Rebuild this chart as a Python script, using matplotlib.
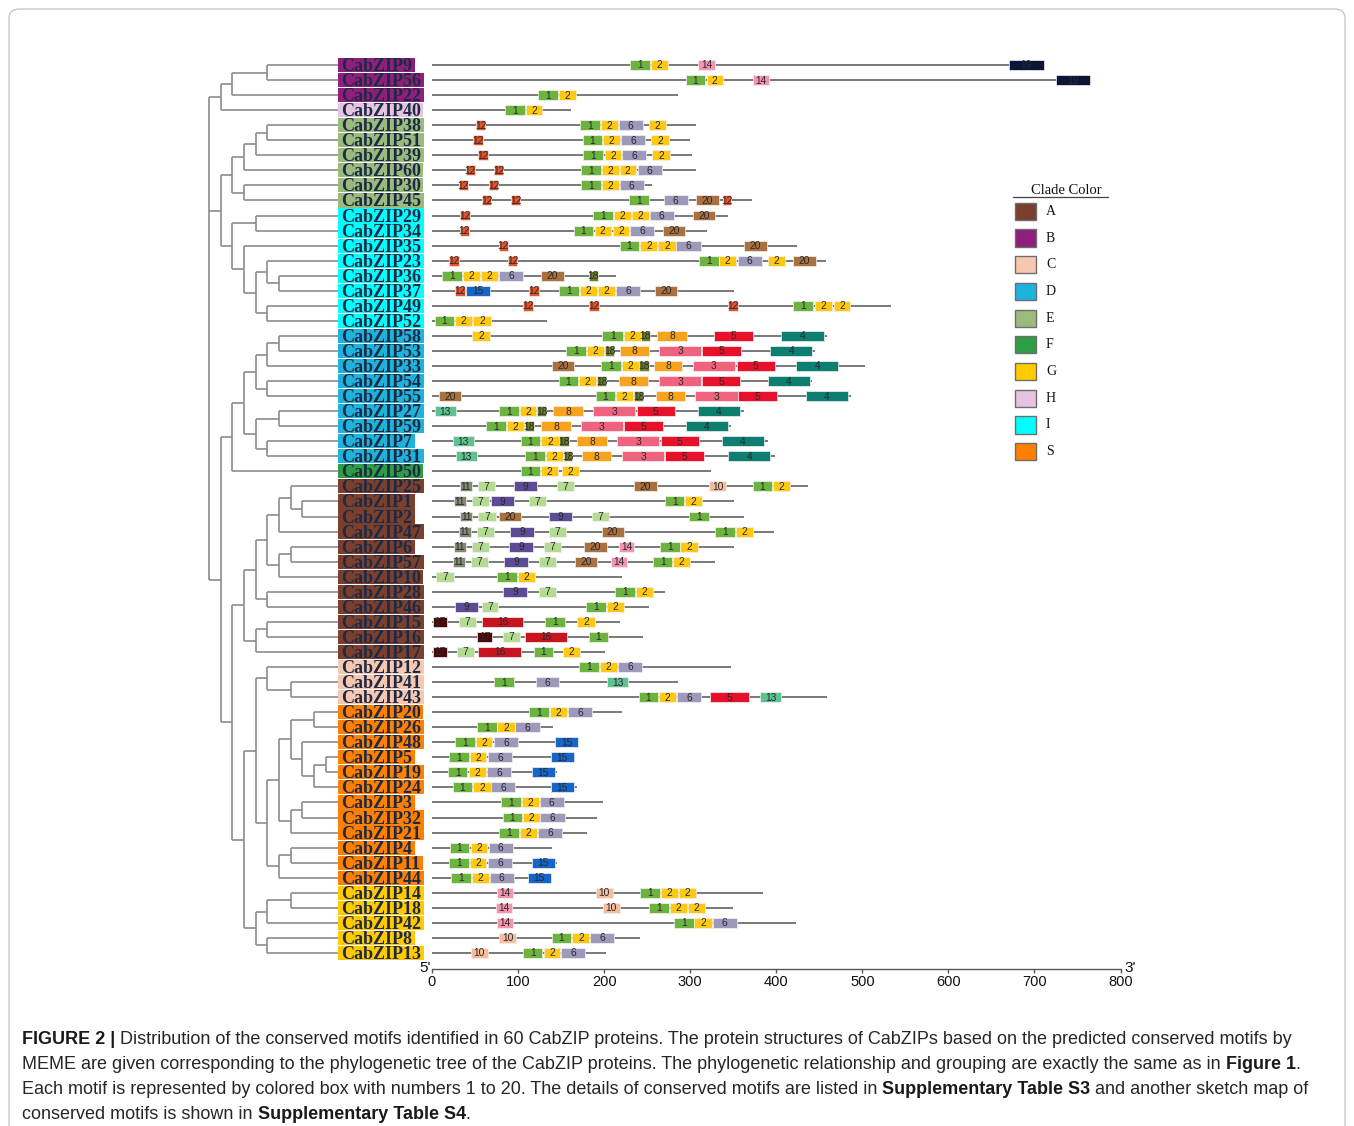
import matplotlib
matplotlib.use("Agg")
import matplotlib.pyplot as plt
from matplotlib.patches import Rectangle, FancyBboxPatch
from matplotlib.lines import Line2D

# ---------------- data ----------------
names = ["CabZIP9", "CabZIP56", "CabZIP22", "CabZIP40", "CabZIP38", "CabZIP51", "CabZIP39", "CabZIP60",
         "CabZIP30", "CabZIP45", "CabZIP29", "CabZIP34", "CabZIP35", "CabZIP23", "CabZIP36", "CabZIP37",
         "CabZIP49", "CabZIP52", "CabZIP58", "CabZIP53", "CabZIP33", "CabZIP54", "CabZIP55", "CabZIP27",
         "CabZIP59", "CabZIP7", "CabZIP31", "CabZIP50", "CabZIP25", "CabZIP1", "CabZIP2", "CabZIP47",
         "CabZIP6", "CabZIP57", "CabZIP10", "CabZIP28", "CabZIP46", "CabZIP15", "CabZIP16", "CabZIP17",
         "CabZIP12", "CabZIP41", "CabZIP43", "CabZIP20", "CabZIP26", "CabZIP48", "CabZIP5", "CabZIP19",
         "CabZIP24", "CabZIP3", "CabZIP32", "CabZIP21", "CabZIP4", "CabZIP11", "CabZIP44", "CabZIP14",
         "CabZIP18", "CabZIP42", "CabZIP8", "CabZIP13"]

clades = ["B", "B", "B", "H", "E", "E", "E", "E", "E", "E", "I", "I", "I", "I", "I", "I", "I", "I",
          "D", "D", "D", "D", "D", "D", "D", "D", "D", "F", "A", "A", "A", "A", "A", "A", "A", "A",
          "A", "A", "A", "A", "C", "C", "C", "S", "S", "S", "S", "S", "S", "S", "S", "S", "S", "S",
          "S", "G", "G", "G", "G", "G"]

lengths = [711, 765, 286, 162, 307, 300, 302, 307, 256, 372, 344, 320, 424, 458, 214, 351, 533, 134,
           459, 445, 503, 442, 487, 362, 348, 390, 398, 324, 437, 351, 362, 397, 351, 329, 221, 271,
           252, 219, 245, 201, 347, 286, 459, 221, 141, 170, 166, 145, 168, 199, 192, 180, 140, 145,
           138, 385, 350, 423, 242, 202]

motif_ids = [
    [1, 2, 14, 19], [1, 2, 14, 19], [1, 2], [1, 2],
    [12, 1, 2, 6, 2], [12, 1, 2, 6, 2], [12, 1, 2, 6, 2], [12, 12, 1, 2, 2, 6], [12, 12, 1, 2, 6],
    [12, 12, 1, 6, 20, 12],
    [12, 1, 2, 2, 6, 20], [12, 1, 2, 2, 6, 20], [12, 1, 2, 2, 6, 20], [12, 12, 1, 2, 6, 2, 20],
    [1, 2, 2, 6, 20, 18], [12, 15, 12, 1, 2, 2, 6, 20], [12, 12, 12, 1, 2, 2], [1, 2, 2],
    [2, 1, 2, 18, 8, 5, 4], [1, 2, 18, 8, 3, 5, 4], [20, 1, 2, 18, 8, 3, 5, 4], [1, 2, 18, 8, 3, 5, 4],
    [20, 1, 2, 18, 8, 3, 5, 4], [13, 1, 2, 18, 8, 3, 5, 4], [1, 2, 18, 8, 3, 5, 4],
    [13, 1, 2, 18, 8, 3, 5, 4], [13, 1, 2, 18, 8, 3, 5, 4], [1, 2, 2],
    [11, 7, 9, 7, 20, 10, 1, 2], [11, 7, 9, 7, 1, 2], [11, 7, 20, 9, 7, 1], [11, 7, 9, 7, 20, 1, 2],
    [11, 7, 9, 7, 20, 14, 1, 2], [11, 7, 9, 7, 20, 14, 1, 2], [7, 1, 2], [9, 7, 1, 2], [9, 7, 1, 2],
    [17, 7, 16, 1, 2], [17, 7, 16, 1], [17, 7, 16, 1, 2],
    [1, 2, 6], [1, 6, 13], [1, 2, 6, 5, 13],
    [1, 2, 6], [1, 2, 6], [1, 2, 6, 15], [1, 2, 6, 15], [1, 2, 6, 15], [1, 2, 6, 15], [1, 2, 6],
    [1, 2, 6], [1, 2, 6], [1, 2, 6], [1, 2, 6, 15], [1, 2, 6, 15],
    [14, 10, 1, 2, 2], [14, 10, 1, 2, 2], [14, 1, 2, 6], [10, 1, 2, 6], [10, 1, 2, 6]]

motif_starts = [
    [230, 254, 309, 670], [295, 319, 373, 725], [123, 147], [85, 109],
    [51, 172, 196, 217, 252], [48, 175, 199, 220, 255], [54, 176, 201, 221, 256],
    [39, 72, 173, 197, 218, 239], [31, 66, 173, 197, 218], [58, 92, 229, 269, 307, 338],
    [33, 187, 211, 232, 253, 303], [32, 165, 189, 210, 230, 268], [78, 218, 242, 263, 284, 363],
    [20, 88, 310, 334, 355, 390, 420], [12, 36, 57, 78, 127, 182],
    [27, 40, 113, 148, 172, 193, 214, 259], [106, 183, 344, 420, 445, 467], [3, 27, 48],
    [47, 198, 223, 243, 262, 328, 406], [156, 180, 201, 218, 264, 314, 393],
    [139, 196, 221, 241, 258, 303, 354, 423], [147, 171, 192, 217, 264, 314, 390],
    [8, 190, 214, 235, 260, 306, 356, 434], [3, 78, 102, 122, 141, 187, 238, 309],
    [63, 87, 108, 127, 173, 223, 295], [24, 103, 127, 148, 169, 215, 266, 337],
    [28, 108, 133, 153, 174, 221, 271, 344], [103, 127, 151],
    [33, 53, 95, 145, 235, 322, 373, 396], [26, 46, 68, 113, 271, 294],
    [33, 54, 78, 136, 186, 299], [31, 52, 91, 136, 197, 329, 353],
    [25, 46, 90, 130, 177, 217, 265, 288], [24, 45, 84, 124, 166, 208, 257, 280],
    [5, 76, 100], [83, 124, 213, 237], [27, 58, 179, 203],
    [1, 31, 58, 131, 169], [52, 82, 108, 182], [1, 29, 54, 118, 152],
    [171, 195, 216], [72, 121, 203], [240, 264, 285, 323, 381],
    [113, 137, 158], [52, 76, 97], [27, 51, 72, 143], [20, 44, 65, 138], [19, 43, 64, 116],
    [24, 48, 69, 138], [80, 104, 125], [82, 106, 126], [78, 102, 123], [21, 45, 66],
    [20, 44, 65, 116], [22, 46, 67, 111],
    [75, 190, 242, 266, 287], [74, 199, 252, 276, 297], [75, 281, 305, 326], [78, 139, 163, 184],
    [45, 106, 130, 150]]

motif_ends = [
    [253, 274, 329, 711], [317, 338, 391, 765], [146, 167], [108, 128],
    [62, 195, 216, 245, 272], [59, 198, 219, 248, 275], [65, 199, 220, 249, 276],
    [50, 83, 196, 217, 237, 267], [42, 77, 196, 217, 246], [69, 102, 252, 297, 333, 348],
    [44, 210, 231, 252, 281, 329], [43, 187, 208, 229, 258, 294], [88, 241, 262, 283, 312, 389],
    [31, 99, 333, 353, 383, 410, 446], [35, 56, 77, 106, 153, 193],
    [38, 67, 124, 171, 192, 213, 242, 285], [117, 194, 355, 443, 465, 486], [26, 47, 68],
    [67, 222, 243, 253, 296, 373, 455], [179, 200, 212, 252, 313, 359, 442],
    [165, 220, 240, 252, 291, 352, 398, 472], [170, 191, 202, 251, 313, 358, 439],
    [34, 213, 234, 245, 294, 355, 401, 483], [28, 101, 121, 133, 175, 236, 282, 358],
    [86, 107, 118, 161, 222, 268, 344], [49, 126, 147, 159, 203, 264, 310, 386],
    [52, 131, 152, 163, 208, 270, 316, 393], [126, 146, 171],
    [46, 73, 122, 165, 261, 342, 395, 416], [39, 66, 95, 132, 293, 314],
    [47, 74, 103, 163, 206, 322], [45, 72, 118, 156, 223, 352, 373],
    [39, 66, 117, 150, 203, 235, 288, 309], [38, 65, 111, 144, 192, 226, 279, 300],
    [26, 99, 120], [110, 144, 236, 257], [53, 77, 202, 223],
    [18, 51, 106, 154, 189], [70, 102, 157, 205], [18, 49, 103, 141, 172],
    [194, 215, 244], [95, 148, 228], [263, 284, 313, 368, 406],
    [136, 157, 186], [75, 96, 125], [50, 70, 100, 170], [43, 63, 93, 165], [41, 63, 92, 143],
    [47, 68, 97, 165], [103, 124, 153], [104, 125, 154], [101, 122, 151], [43, 64, 94],
    [43, 63, 93, 143], [45, 66, 95, 138],
    [94, 210, 265, 286, 307], [93, 218, 275, 296, 317], [94, 304, 325, 354], [98, 162, 183, 212],
    [65, 128, 149, 178]]

motif_colors = {1: "#6DB33F", 2: "#FFC913", 3: "#F0637F", 4: "#0D7E70", 5: "#E8112B",
                6: "#9C99BA", 7: "#B3DC92", 8: "#F8A31E", 9: "#5E4B95", 10: "#F6BC9C",
                11: "#7F8B75", 12: "#E1542C", 13: "#5DC290", 14: "#F594AE", 15: "#1666C9",
                16: "#C8141F", 17: "#4A0909", 18: "#6A7D2B", 19: "#0B1537", 20: "#A9713F"}

clade_names = ["A", "B", "C", "D", "E", "F", "G", "H", "I", "S"]
clade_colors = ["#7B3F2E", "#8E1F7C", "#F6C8B2", "#1EB3DC", "#9BBB7E",
                "#2E9E45", "#FFCB00", "#E6C3E1", "#00FFFF", "#FF7F00"]

# tree: [node_level, child, child, ...]; ints are row indices (leaves)
tree = [0,
        [1, [2, [5, 0, 1], 2], 3],
        [1,
         [2, [3, [4, [5, 4, 5], 6], 7], [3, 8, 9]],
         [2, [4, 10, 11], [3, 12, [4, [5, 13, [6, 14, 15]], [5, 16, 17]]]]],
        [1,
         [2, [3, [4, [5, [6, 18, 19], 20], [5, 21, 22]], [4, [6, 23, 24], [5, 25, 26]]], 27],
         [2,
          [3, [4, [5, [6, [7, 28, [8, 29, 30]], 31], [6, [7, 32, 33], 34]], [5, 35, 36]],
           [4, [5, 37, 38], 39]],
          [3,
           [4, [5, 40, [7, 41, 42]],
            [5, [6, [7, [9, 43, 44], [8, 45, [9, [10, 46, 47], 48]]], [7, [8, 49, 50], 51]],
             [6, [7, 52, 53], 54]]],
           [4, [5, [7, 55, 56], 57], [5, 58, 59]]]]]]

xticks = [0, 100, 200, 300, 400, 500, 600, 700, 800]

caption_lines = [
    [("FIGURE 2 | ", True), ("Distribution of the conserved motifs identified in 60 CabZIP proteins. "
                            "The protein structures of CabZIPs based on the predicted conserved motifs by", False)],
    [("MEME are given corresponding to the phylogenetic tree of the CabZIP proteins. The phylogenetic "
      "relationship and grouping are exactly the same as in ", False), ("Figure 1", True), (".", False)],
    [("Each motif is represented by colored box with numbers 1 to 20. The details of conserved motifs "
      "are listed in ", False), ("Supplementary Table S3", True), (" and another sketch map of", False)],
    [("conserved motifs is shown in ", False), ("Supplementary Table S4", True), (".", False)],
]

# ---------------- layout ----------------
W, H, DPI = 1354, 1126, 100
fig = plt.figure(figsize=(W / DPI, H / DPI), dpi=DPI)
fig.patch.set_facecolor("white")

n = len(names)
ROW0, STEP = 65.0, 15.05
ytop = ROW0 - STEP / 2
ybot = ROW0 + STEP * (n - 1) + STEP / 2
bottom = 1 - ybot / H
height = (ybot - ytop) / H


def fx(px):
    return px / W


def fyy(py):
    return 1 - py / H


# frame
frame = FancyBboxPatch((fx(9), fyy(1140)), fx(1345) - fx(9), fyy(9) - fyy(1140),
                       boxstyle="round,pad=0,rounding_size=0.008", transform=fig.transFigure,
                       fc="none", ec="#C8C8C8", lw=1.0)
fig.add_artist(frame)

# ---------------- motif axes ----------------
ax = fig.add_axes([fx(432), bottom, fx(1120.5) - fx(432), height])
ax.set_xlim(0, 800)
ax.set_ylim(n - 0.5, -0.5)
for s in ["top", "right", "left"]:
    ax.spines[s].set_visible(False)
ax.spines["bottom"].set_position(("outward", 6))
ax.spines["bottom"].set_color("#555555")
ax.spines["bottom"].set_linewidth(1.0)
ax.set_yticks([])
ax.set_xticks(xticks)
ax.tick_params(axis="x", direction="out", length=3, width=1.0, color="#555555", pad=1.5,
               labelsize=10.5, labelcolor="#111111")
for lab in ax.get_xticklabels():
    lab.set_fontfamily("Liberation Sans")
ax.patch.set_alpha(0)

BH = 0.66
for i in range(n):
    ax.plot([0, lengths[i]], [i, i], color="#6E6E6E", lw=1.3, zorder=1, solid_capstyle="butt")
    for mid, s, e in zip(motif_ids[i], motif_starts[i], motif_ends[i]):
        ax.add_patch(Rectangle((s, i - BH / 2), e - s, BH, fc=motif_colors[mid],
                               ec="#F2F2F2", lw=0.5, zorder=2))
        ax.text((s + e) / 2, i + 0.03, str(mid), ha="center", va="center", fontsize=7.4,
                color="#2A2A2A", family="Liberation Sans", zorder=3)

fig.text(fx(425), fyy(972), "5'", ha="center", va="baseline", fontsize=11, family="Liberation Sans",
         color="#111111")
fig.text(fx(1130), fyy(972), "3'", ha="center", va="baseline", fontsize=11, family="Liberation Sans",
         color="#111111")

# ---------------- tree axes ----------------
LV0, LVSTEP = 209.0, 11.65
axt = fig.add_axes([fx(200), bottom, fx(338) - fx(200), height])
lv_min = (200 - LV0) / LVSTEP
lv_leaf = (338 - LV0) / LVSTEP
axt.set_xlim(lv_min, lv_leaf)
axt.set_ylim(n - 0.5, -0.5)
axt.axis("off")
TC = "#8C8C8C"


def draw(node):
    if isinstance(node, int):
        return float(node)
    lv = node[0]
    ys = []
    for kid in node[1:]:
        ky = draw(kid)
        klv = lv_leaf if isinstance(kid, int) else kid[0]
        axt.plot([lv, klv], [ky, ky], color=TC, lw=1.2, solid_capstyle="butt")
        ys.append(ky)
    axt.plot([lv, lv], [min(ys), max(ys)], color=TC, lw=1.2, solid_capstyle="butt")
    return (min(ys) + max(ys)) / 2


draw(tree)

# ---------------- labels ----------------
axl = fig.add_axes([fx(338), bottom, fx(432) - fx(338), height])
axl.set_xlim(0, 94)
axl.set_ylim(n - 0.5, -0.5)
axl.axis("off")
cmap = dict(zip(clade_names, clade_colors))
texts = []
for i, nm in enumerate(names):
    t = axl.text(3.5, i + 0.40, nm, ha="left", va="baseline", fontsize=13, fontweight="bold",
                 family="Liberation Serif", color="#1E2A44", zorder=3)
    texts.append(t)

fig.canvas.draw()
rend = fig.canvas.get_renderer()
inv = axl.transData.inverted()
for i, t in enumerate(texts):
    bb = t.get_window_extent(rend)
    x1 = inv.transform((bb.x1, 0))[0]
    axl.add_patch(Rectangle((0, i - 0.47), x1 + 2.0, 0.94, fc=cmap[clades[i]], ec="none", zorder=1))

# ---------------- legend ----------------
fig.text(fx(1066), fyy(190), "Clade Color", ha="center", va="center", fontsize=10.5,
         family="Liberation Serif", color="#111111")
fig.add_artist(Line2D([fx(1013), fx(1108)], [fyy(196.5), fyy(196.5)], transform=fig.transFigure,
                      color="#444444", lw=0.9))
for k, (cn, cc) in enumerate(zip(clade_names, clade_colors)):
    cy = 211.3 + k * 26.7
    fig.add_artist(Rectangle((fx(1015), fyy(cy + 8.6)), fx(20.5), 17.2 / H, transform=fig.transFigure,
                             fc=cc, ec="#6E6E6E", lw=1.0))
    fig.text(fx(1046), fyy(cy), cn, ha="left", va="center", fontsize=10, family="Liberation Serif",
             color="#111111")

# ---------------- caption ----------------
axc = fig.add_axes([0, 0, 1, 1])
axc.axis("off")
axc.set_xlim(0, W)
axc.set_ylim(H, 0)
cap_y = [1044, 1069, 1094, 1119]
for ly, parts in zip(cap_y, caption_lines):
    prev = None
    for txt, bold in parts:
        kw = dict(fontsize=13.0, family="Liberation Sans", fontweight="bold" if bold else "normal",
                  color="#262626" if not bold else "#1a1a1a")
        if prev is None:
            prev = axc.text(22, ly, txt, ha="left", va="baseline", **kw)
        else:
            prev = axc.annotate(txt, xy=(1, 0), xycoords=prev, ha="left", va="bottom", **kw)

fig.savefig("out.png", dpi=DPI, facecolor="white")
